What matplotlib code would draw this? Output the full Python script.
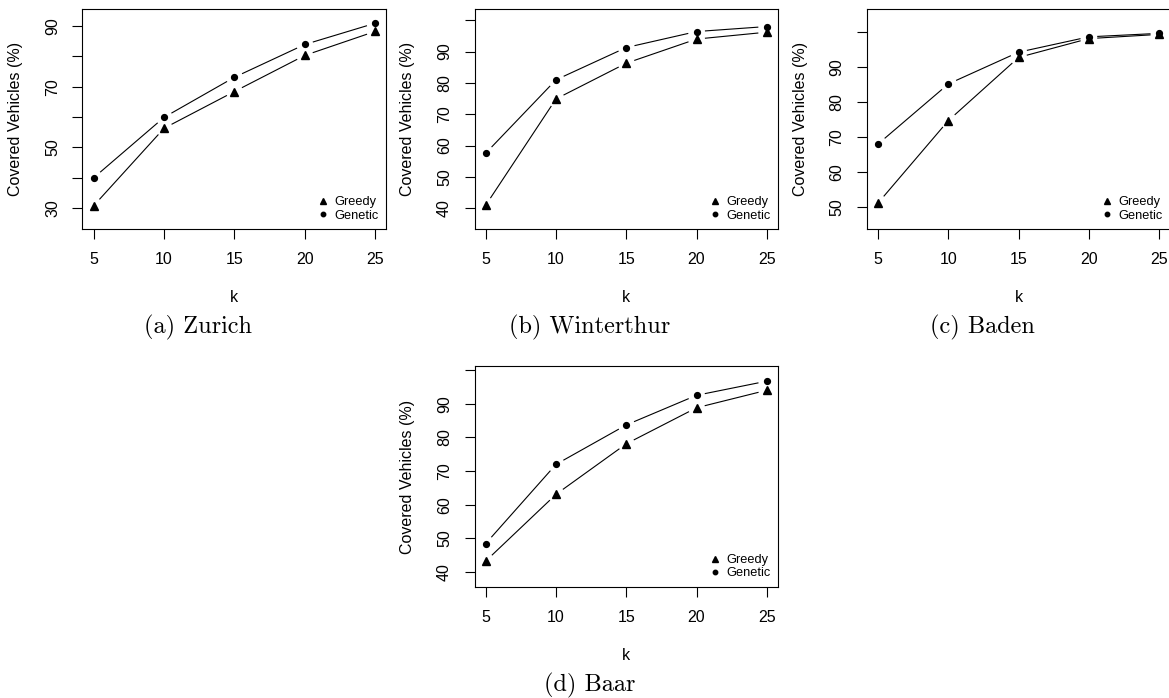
import numpy as np
import matplotlib
matplotlib.use("Agg")
import matplotlib.pyplot as plt
from matplotlib.lines import Line2D

plt.rcParams['font.family'] = ['Liberation Sans', 'DejaVu Sans']

k = [5, 10, 15, 20, 25]

# covered vehicles (%) per city
zurich_greedy = [30.8, 56.3, 68.4, 80.3, 88.2]
zurich_genetic = [40.0, 59.9, 73.1, 83.9, 90.9]
winterthur_greedy = [41.0, 74.9, 86.3, 94.0, 96.2]
winterthur_genetic = [57.6, 81.0, 91.3, 96.4, 98.0]
baden_greedy = [51.1, 74.7, 92.8, 98.2, 99.4]
baden_genetic = [68.0, 85.2, 94.3, 98.7, 99.7]
baar_greedy = [43.3, 63.1, 78.1, 88.8, 94.0]
baar_genetic = [48.5, 72.0, 83.7, 92.5, 96.7]

captions = ['(a) Zurich', '(b) Winterthur', '(c) Baden', '(d) Baar']

W, H = 1169, 698
fig = plt.figure(figsize=(W / 100, H / 100), dpi=100)


def gapped_line(ax, x, y, gap=9):
    # R type="b": segments stop short of the points
    pts = ax.transData.transform(np.column_stack([x, y]))
    inv = ax.transData.inverted()
    for p0, p1 in zip(pts[:-1], pts[1:]):
        d = p1 - p0
        L = np.hypot(d[0], d[1])
        if L <= 2 * gap:
            continue
        u = d / L
        seg = inv.transform([p0 + u * gap, p1 - u * gap])
        ax.plot(seg[:, 0], seg[:, 1], color='black', lw=0.8)


def panel(box, ylim, yticks, ylabels, greedy, genetic, caption, cap_x, cap_y):
    left, right, top, bottom = box
    ax = fig.add_axes([left / W, 1 - bottom / H, (right - left) / W, (bottom - top) / H])
    ax.set_xlim(4.2, 25.8)
    ax.set_ylim(*ylim)
    ax.set_xticks(k)
    ax.set_yticks(yticks)
    ax.set_yticklabels([str(t) if t in ylabels else '' for t in yticks])
    ax.tick_params(length=7.2, width=0.8, labelsize=11.5, pad=9)
    plt.setp(ax.get_yticklabels(), rotation=90, va='center')
    for s in ax.spines.values():
        s.set_linewidth(0.8)
    gapped_line(ax, k, greedy)
    gapped_line(ax, k, genetic)
    ax.plot(k, greedy, '^', color='black', ms=6.2, ls='none')
    ax.plot(k, genetic, 'o', color='black', ms=4.2, ls='none')
    ax.set_xlabel('k', fontsize=11.5, va='center')
    ax.xaxis.set_label_coords(0.5, -68.5 / (bottom - top))
    ax.set_ylabel('Covered Vehicles (%)', fontsize=11.5, va='center', ha='center')
    ax.yaxis.set_label_coords(-67 / (right - left), 0.5)
    handles = [Line2D([], [], marker='^', color='black', ls='none', ms=5),
               Line2D([], [], marker='o', color='black', ls='none', ms=3.2)]
    ax.legend(handles, ['Greedy', 'Genetic'], loc='lower right', frameon=False,
              fontsize=9.2, handlelength=0.8, handletextpad=0.5,
              labelspacing=0.1, borderaxespad=0.3, borderpad=0.3)
    fig.text(cap_x / W, 1 - cap_y / H, caption, family='cmr10', fontsize=17.5,
             ha='center', va='center')
    return ax


panel((82.5, 386.3, 9.3, 229.3), (23.0, 95.5), [30, 40, 50, 60, 70, 80, 90],
      [30, 50, 70, 90], zurich_greedy, zurich_genetic, captions[0], 198, 327)
panel((474.5, 778, 9.3, 229.3), (33.3, 103.5), [40, 50, 60, 70, 80, 90, 100],
      [40, 50, 60, 70, 80, 90], winterthur_greedy, winterthur_genetic, captions[1], 590, 327)
panel((867, 1170.2, 9.3, 229.3), (43.5, 106.6), [50, 60, 70, 80, 90, 100],
      [50, 60, 70, 80, 90], baden_greedy, baden_genetic, captions[2], 982, 327)
panel((474.5, 778, 366, 587), (35.6, 101.2), [40, 50, 60, 70, 80, 90, 100],
      [40, 50, 60, 70, 80, 90], baar_greedy, baar_genetic, captions[3], 590, 685)

fig.savefig('out.png', dpi=100)
